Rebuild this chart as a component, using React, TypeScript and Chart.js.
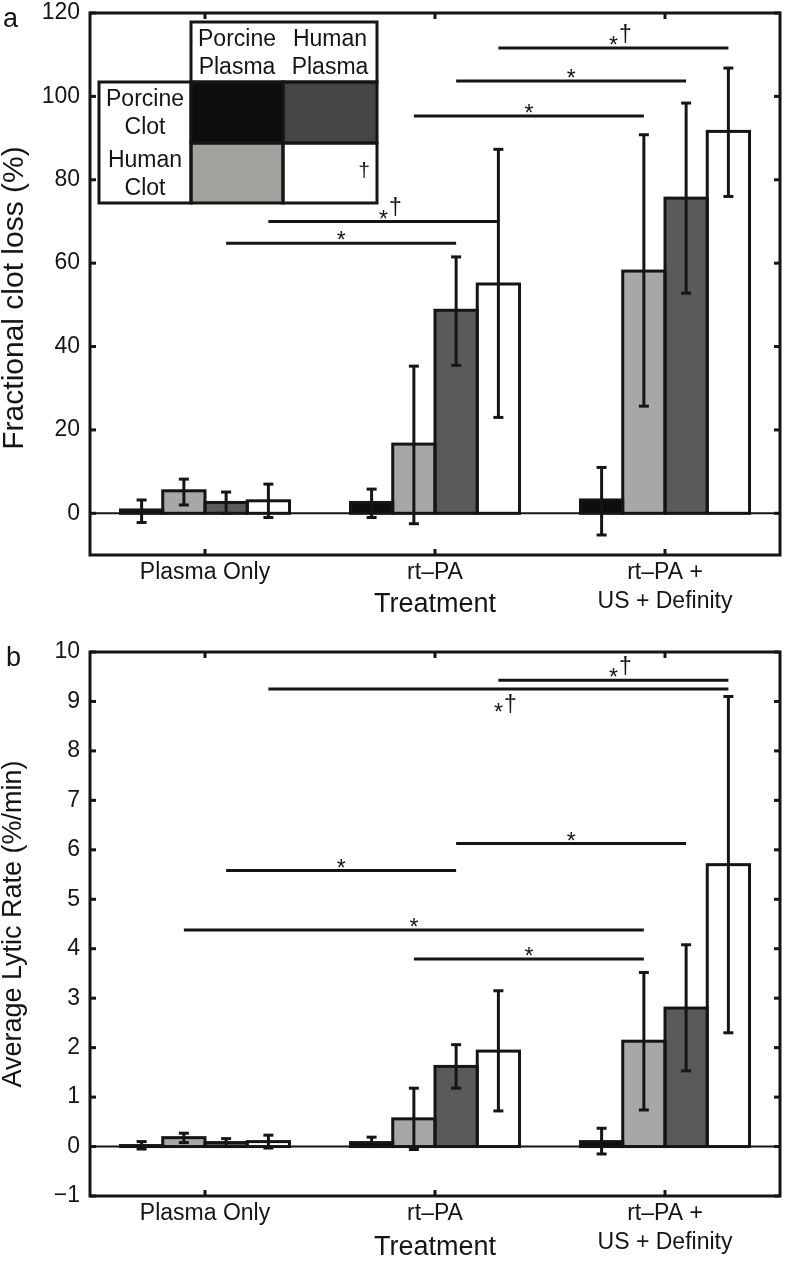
import React, { useEffect, useRef } from 'react';
import { Chart, registerables } from 'chart.js';

Chart.register(...registerables);

const FONT = "'Liberation Sans', Arial, Helvetica, sans-serif";
const INK = '#151515';

// ---------- shared ----------
const categories: (string | string[])[] = ['Plasma Only', 'rt–PA', ['rt–PA +', 'US + Definity']];
const seriesNames = [
  'Porcine clot / porcine plasma',
  'Human clot / porcine plasma',
  'Porcine clot / human plasma',
  'Human clot / human plasma',
];
const barColors = ['#0e0e0e', '#a7a7a5', '#5a5a5a', '#ffffff'];
const legendColHeads = [['Porcine', 'Plasma'], ['Human', 'Plasma']];
const legendRowHeads = [['Porcine', 'Clot'], ['Human', 'Clot']];
const legendColors = [['#0d0d0d', '#454545'], ['#a1a19d', '#ffffff']];
const legendMarks = [['', ''], ['', '†']];

// ---------- panel a : fractional clot loss (%) ----------
const lossPcPp = [0.8, 2.6, 3.2];
const lossPcPpLo = [-2.2, -1.0, -5.2];
const lossPcPpHi = [3.2, 5.8, 11.0];
const lossHcPp = [5.4, 16.6, 58.1];
const lossHcPpLo = [2.0, -2.5, 25.7];
const lossHcPpHi = [8.2, 35.3, 90.8];
const lossPcHp = [2.6, 48.7, 75.6];
const lossPcHpLo = [0.0, 35.5, 52.8];
const lossPcHpHi = [5.1, 61.5, 98.4];
const lossHcHp = [3.0, 55.0, 91.6];
const lossHcHpLo = [-1.0, 23.0, 76.0];
const lossHcHpHi = [7.0, 87.3, 106.8];
const lossTicks = [0, 20, 40, 60, 80, 100, 120];
// significance bars: [category, series]
const sigAFrom = [[1, 3], [1, 2], [1, 1], [0, 3], [0, 2]];
const sigATo = [[2, 3], [2, 2], [2, 1], [1, 3], [1, 2]];
const sigAY = [111.6, 103.7, 95.3, 70.0, 64.8];
const sigALabel = ['*†', '*', '*', '*†', '*'];
const sigABelow = [false, false, false, false, false];

// ---------- panel b : average lytic rate (%/min) ----------
const ratePcPp = [0.02, 0.08, 0.1];
const ratePcPpLo = [-0.05, 0.0, -0.15];
const ratePcPpHi = [0.1, 0.19, 0.37];
const rateHcPp = [0.18, 0.56, 2.13];
const rateHcPpLo = [0.08, -0.06, 0.74];
const rateHcPpHi = [0.27, 1.18, 3.52];
const ratePcHp = [0.08, 1.62, 2.8];
const ratePcHpLo = [0.0, 1.18, 1.53];
const ratePcHpHi = [0.16, 2.06, 4.08];
const rateHcHp = [0.1, 1.93, 5.7];
const rateHcHpLo = [-0.03, 0.72, 2.3];
const rateHcHpHi = [0.23, 3.15, 9.1];
const rateTicks = [-1, 0, 1, 2, 3, 4, 5, 6, 7, 8, 9, 10];
const sigBFrom = [[1, 3], [0, 3], [1, 2], [0, 2], [0, 1], [1, 1]];
const sigBTo = [[2, 3], [2, 3], [2, 2], [1, 2], [2, 1], [2, 1]];
const sigBY = [9.43, 9.25, 6.13, 5.58, 4.38, 3.79];
const sigBLabel = ['*†', '*†', '*', '*', '*', '*'];
const sigBBelow = [false, true, false, false, false, false];

type Spec = {
  panel: string;
  panelX: number;
  panelY: number;
  values: number[][];
  lo: number[][];
  hi: number[][];
  yMin: number;
  yMax: number;
  yTicks: number[];
  yTitle: string;
  yTitleSize: number;
  yTitleShift: number;
  sigFrom: number[][];
  sigTo: number[][];
  sigY: number[];
  sigLabel: string[];
  sigBelow: boolean[];
  legend: boolean;
  padTop: number;
  xAxisH: number;
};

const specA: Spec = {
  panel: 'a',
  panelX: 3,
  panelY: 27,
  values: [lossPcPp, lossHcPp, lossPcHp, lossHcHp],
  lo: [lossPcPpLo, lossHcPpLo, lossPcHpLo, lossHcHpLo],
  hi: [lossPcPpHi, lossHcPpHi, lossPcHpHi, lossHcHpHi],
  yMin: -10,
  yMax: 120,
  yTicks: lossTicks,
  yTitle: 'Fractional clot loss (%)',
  yTitleSize: 30,
  yTitleShift: 14,
  sigFrom: sigAFrom,
  sigTo: sigATo,
  sigY: sigAY,
  sigLabel: sigALabel,
  sigBelow: sigABelow,
  legend: true,
  padTop: 13,
  xAxisH: 63,
};

const specB: Spec = {
  panel: 'b',
  panelX: 6,
  panelY: 51,
  values: [ratePcPp, rateHcPp, ratePcHp, rateHcHp],
  lo: [ratePcPpLo, rateHcPpLo, ratePcHpLo, rateHcHpLo],
  hi: [ratePcPpHi, rateHcPpHi, ratePcHpHi, rateHcHpHi],
  yMin: -1,
  yMax: 10,
  yTicks: rateTicks,
  yTitle: 'Average Lytic Rate (%/min)',
  yTitleSize: 27,
  yTitleShift: 0,
  sigFrom: sigBFrom,
  sigTo: sigBTo,
  sigY: sigBY,
  sigLabel: sigBLabel,
  sigBelow: sigBBelow,
  legend: false,
  padTop: 37,
  xAxisH: 65,
};

function seg(ctx: CanvasRenderingContext2D, x1: number, y1: number, x2: number, y2: number) {
  ctx.beginPath();
  ctx.moveTo(x1, y1);
  ctx.lineTo(x2, y2);
  ctx.stroke();
}

function drawLegend(ctx: CanvasRenderingContext2D, a: any) {
  const L = a.left;
  const T = a.top;
  const xs = [L + 9, L + 101, L + 193, L + 287];
  const ys = [T + 9, T + 69, T + 130, T + 190];
  ctx.save();
  ctx.fillStyle = '#ffffff';
  ctx.fillRect(xs[1], ys[0], xs[3] - xs[1], ys[1] - ys[0]);
  ctx.fillRect(xs[0], ys[1], xs[1] - xs[0], ys[3] - ys[1]);
  for (let r = 0; r < 2; r++) {
    for (let c = 0; c < 2; c++) {
      ctx.fillStyle = legendColors[r][c];
      ctx.fillRect(xs[c + 1], ys[r + 1], xs[c + 2] - xs[c + 1], ys[r + 2] - ys[r + 1]);
    }
  }
  ctx.strokeStyle = INK;
  ctx.lineWidth = 3;
  ctx.strokeRect(xs[1], ys[0], xs[3] - xs[1], ys[1] - ys[0]);
  ctx.strokeRect(xs[0], ys[1], xs[1] - xs[0], ys[3] - ys[1]);
  for (let r = 0; r < 2; r++) {
    for (let c = 0; c < 2; c++) {
      ctx.strokeRect(xs[c + 1], ys[r + 1], xs[c + 2] - xs[c + 1], ys[r + 2] - ys[r + 1]);
    }
  }
  ctx.fillStyle = INK;
  ctx.font = `23px ${FONT}`;
  ctx.textAlign = 'center';
  ctx.textBaseline = 'middle';
  for (let c = 0; c < 2; c++) {
    const cx = (xs[c + 1] + xs[c + 2]) / 2;
    legendColHeads[c].forEach((t, k) => ctx.fillText(t, cx, ys[0] + 18 + k * 28));
  }
  for (let r = 0; r < 2; r++) {
    const cx = (xs[0] + xs[1]) / 2;
    legendRowHeads[r].forEach((t, k) => ctx.fillText(t, cx, ys[r + 1] + 18 + k * 28));
  }
  ctx.font = `21px ${FONT}`;
  for (let r = 0; r < 2; r++) {
    for (let c = 0; c < 2; c++) {
      if (legendMarks[r][c]) ctx.fillText(legendMarks[r][c], xs[c + 2] - 13, ys[r + 1] + 28);
    }
  }
  ctx.restore();
}

function decor(spec: Spec) {
  return {
    id: 'decor' + spec.panel,
    beforeDatasetsDraw(chart: any) {
      const { ctx, chartArea: a } = chart;
      const y0 = chart.scales.y.getPixelForValue(0);
      ctx.save();
      ctx.strokeStyle = INK;
      ctx.lineWidth = 2;
      seg(ctx, a.left, y0, a.right, y0);
      ctx.restore();
    },
    afterDatasetsDraw(chart: any) {
      const { ctx, chartArea: a } = chart;
      const xs = chart.scales.x;
      const ys = chart.scales.y;
      ctx.save();
      ctx.strokeStyle = INK;
      ctx.lineCap = 'butt';
      // bar outlines
      ctx.lineWidth = 3;
      spec.values.forEach((_, i) => {
        const meta = chart.getDatasetMeta(i);
        meta.data.forEach((el: any) => {
          const top = Math.min(el.y, el.base);
          const h = Math.abs(el.base - el.y);
          ctx.strokeRect(el.x - el.width / 2, top, el.width, h);
        });
      });
      // error bars
      ctx.lineWidth = 3;
      spec.values.forEach((_, i) => {
        const meta = chart.getDatasetMeta(i);
        meta.data.forEach((el: any, j: number) => {
          const pl = ys.getPixelForValue(spec.lo[i][j]);
          const ph = ys.getPixelForValue(spec.hi[i][j]);
          seg(ctx, el.x, pl, el.x, ph);
          seg(ctx, el.x - 5, pl, el.x + 5, pl);
          seg(ctx, el.x - 5, ph, el.x + 5, ph);
        });
      });
      // significance bars
      ctx.lineWidth = 3;
      spec.sigY.forEach((v, k) => {
        const [c1, s1] = spec.sigFrom[k];
        const [c2, s2] = spec.sigTo[k];
        const x1 = chart.getDatasetMeta(s1).data[c1].x;
        const x2 = chart.getDatasetMeta(s2).data[c2].x;
        const py = ys.getPixelForValue(v);
        seg(ctx, x1, py, x2, py);
        const mx = (x1 + x2) / 2;
        const below = spec.sigBelow[k];
        const label = spec.sigLabel[k];
        ctx.fillStyle = INK;
        ctx.textAlign = 'center';
        ctx.textBaseline = 'alphabetic';
        ctx.font = `23px ${FONT}`;
        const starC = below ? py + 18 : py - 8;
        ctx.fillText('*', mx, starC + 13.3);
        if (label.includes('†')) {
          ctx.font = `23px ${FONT}`;
          const base = below ? py + 22.5 : py - 6.5;
          ctx.fillText('†', mx + 12, base);
        }
      });
      // axes box and inward ticks
      ctx.lineWidth = 3;
      ctx.strokeRect(a.left, a.top, a.right - a.left, a.bottom - a.top);
      spec.yTicks.forEach((v) => {
        const py = ys.getPixelForValue(v);
        seg(ctx, a.left, py, a.left + 6, py);
        seg(ctx, a.right - 6, py, a.right, py);
      });
      categories.forEach((_, i) => {
        const px = xs.getPixelForValue(i);
        seg(ctx, px, a.bottom, px, a.bottom - 6);
        seg(ctx, px, a.top, px, a.top + 6);
      });
      ctx.restore();
      if (spec.legend) drawLegend(ctx, a);
      // y-axis title
      ctx.save();
      ctx.fillStyle = INK;
      ctx.font = `${spec.yTitleSize}px ${FONT}`;
      ctx.textAlign = 'center';
      ctx.textBaseline = 'middle';
      ctx.translate(ys.left + spec.yTitleSize / 2, (a.top + a.bottom) / 2 + spec.yTitleShift);
      ctx.rotate(-Math.PI / 2);
      ctx.fillText(spec.yTitle, 0, 0);
      ctx.restore();
      // panel letter
      ctx.save();
      ctx.fillStyle = INK;
      ctx.font = `27px ${FONT}`;
      ctx.textAlign = 'left';
      ctx.textBaseline = 'alphabetic';
      ctx.fillText(spec.panel, spec.panelX, spec.panelY);
      ctx.restore();
    },
  };
}

function buildConfig(spec: Spec): any {
  return {
    type: 'bar',
    data: {
      labels: categories,
      datasets: spec.values.map((v, i) => ({
        label: seriesNames[i],
        data: v,
        backgroundColor: barColors[i],
        borderWidth: 0,
        categoryPercentage: 0.735,
        barPercentage: 1.0,
      })),
    },
    options: {
      responsive: false,
      animation: false,
      devicePixelRatio: 1,
      layout: { padding: { top: spec.padTop, right: 6, left: 0, bottom: 0 } },
      plugins: { legend: { display: false }, tooltip: { enabled: false } },
      scales: {
        x: {
          type: 'category',
          grid: { display: false, drawTicks: false },
          border: { display: false },
          ticks: {
            color: INK,
            font: { family: FONT, size: 23, lineHeight: 1.25 },
            padding: 3.6,
            maxRotation: 0,
            autoSkip: false,
          },
          title: {
            display: true,
            text: 'Treatment',
            color: INK,
            font: { family: FONT, size: 27, lineHeight: 1 },
            padding: 0,
          },
          afterFit: (s: any) => {
            s.height = spec.xAxisH;
            s.paddingLeft = 0;
            s.paddingRight = 0;
          },
        },
        y: {
          type: 'linear',
          min: spec.yMin,
          max: spec.yMax,
          afterBuildTicks: (s: any) => {
            s.ticks = spec.yTicks.map((v) => ({ value: v }));
          },
          grid: { display: false, drawTicks: false },
          border: { display: false },
          ticks: {
            color: INK,
            font: { family: FONT, size: 23 },
            padding: 10,
            callback: (v: any) => String(v).replace('-', '−'),
          },
          title: { display: false, text: spec.yTitle },
          afterFit: (s: any) => {
            s.width = 90;
            s.paddingTop = 0;
            s.paddingBottom = 0;
          },
        },
      },
    },
    plugins: [decor(spec)],
  };
}

function Panel({ spec, top, height }: { spec: Spec; top: number; height: number }) {
  const ref = useRef<HTMLCanvasElement>(null);
  useEffect(() => {
    const chart = new Chart(ref.current as HTMLCanvasElement, buildConfig(spec));
    return () => chart.destroy();
  }, [spec]);
  return (
    <canvas
      ref={ref}
      width={786}
      height={height}
      style={{ position: 'absolute', left: 0, top, width: 786, height, display: 'block' }}
    />
  );
}

export default function App() {
  return (
    <div
      style={{
        position: 'absolute',
        left: 0,
        top: 0,
        width: 786,
        height: 1261,
        overflow: 'hidden',
        background: '#ffffff',
      }}
    >
      <Panel spec={specA} top={0} height={618} />
      <Panel spec={specB} top={615} height={646} />
    </div>
  );
}
